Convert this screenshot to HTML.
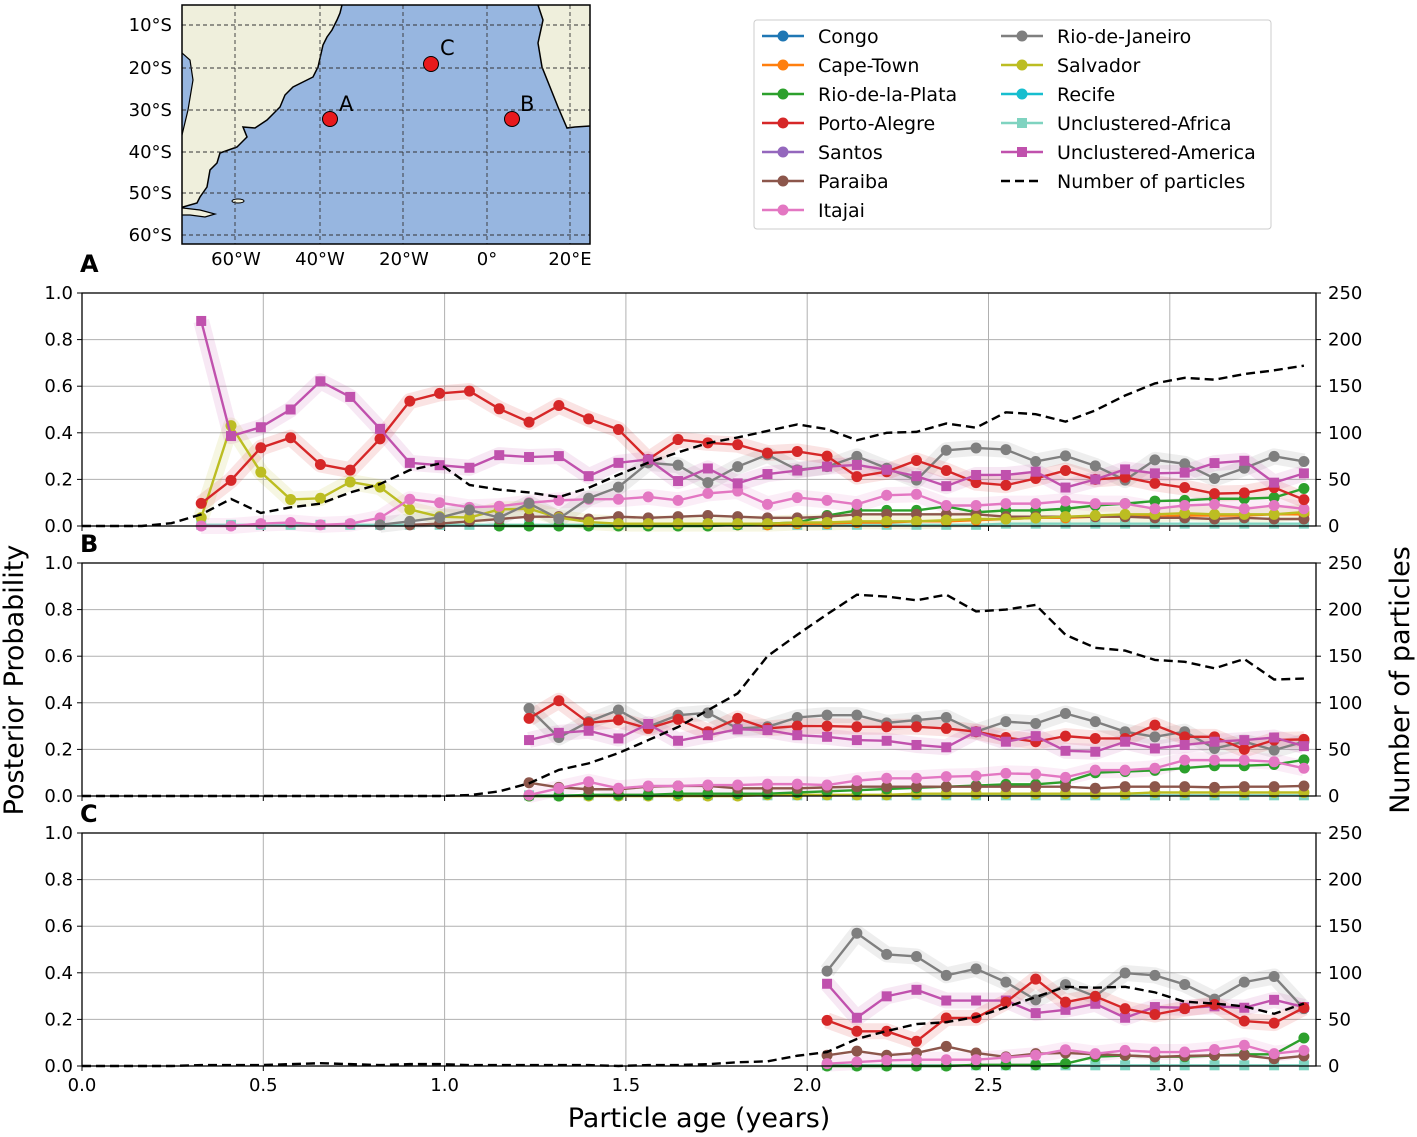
<!DOCTYPE html>
<html><head><meta charset="utf-8"><style>
body{margin:0;background:#fff;}
svg{display:block;font-family:"DejaVu Sans","Liberation Sans",sans-serif;}
</style></head><body>
<svg id="fig" width="1417" height="1137" viewBox="0 0 1417 1137" xmlns="http://www.w3.org/2000/svg">
<defs><clipPath id="mapclip"><rect x="182" y="5" width="408" height="239"/></clipPath></defs>
<g>
<g clip-path="url(#mapclip)">
<rect x="182" y="5" width="408" height="239" fill="#97b6e0"/>
<polygon fill="#efefdc" stroke="#000" stroke-width="1.5" points="160,0 344,0 342,5 340,13 337,20 332,30 327,37 323,45 318,67 313,77 307,80 293,87 285,95 280,107 267,120 255,128 243,127 247,137 237,147 220,153 217,163 210,170 207,187 200,197 197,203 183,207 160,207"/>
<polygon fill="#97b6e0" stroke="#000" stroke-width="1.2" points="160,53 182,53 190,60 193,80 188,110 182,135 160,135"/>
<polygon fill="#efefdc" stroke="#000" stroke-width="1.2" points="170,209 183,208 200,210 215,214 205,217 190,215 170,215"/>
<ellipse cx="238" cy="201" rx="6" ry="2" fill="#efefdc" stroke="#000" stroke-width="1"/>
<polygon fill="#efefdc" stroke="#000" stroke-width="1.5" points="538,0 538,5 543,20 538,43 542,67 550,87 558,107 567,128 575,127 590,126 600,126 600,0"/>
<g stroke="#333" stroke-width="0.9" stroke-dasharray="4,3" fill="none">
<line x1="235" y1="5" x2="235" y2="244"/><line x1="320" y1="5" x2="320" y2="244"/><line x1="403" y1="5" x2="403" y2="244"/><line x1="487" y1="5" x2="487" y2="244"/><line x1="570" y1="5" x2="570" y2="244"/>
<line x1="182" y1="25" x2="590" y2="25"/><line x1="182" y1="68" x2="590" y2="68"/><line x1="182" y1="110" x2="590" y2="110"/><line x1="182" y1="152" x2="590" y2="152"/><line x1="182" y1="193" x2="590" y2="193"/><line x1="182" y1="235" x2="590" y2="235"/>
</g>
<circle cx="330" cy="119" r="7.5" fill="#e8191c" stroke="#000" stroke-width="1"/>
<circle cx="512" cy="119" r="7.5" fill="#e8191c" stroke="#000" stroke-width="1"/>
<circle cx="431" cy="64" r="7.5" fill="#e8191c" stroke="#000" stroke-width="1"/>
<text x="339" y="111" font-size="21">A</text>
<text x="520" y="111" font-size="21">B</text>
<text x="440" y="55" font-size="21">C</text>
</g>
<rect x="182" y="5" width="408" height="239" fill="none" stroke="#000" stroke-width="1.5"/>
<g font-size="18" text-anchor="end">
<text x="172" y="31">10°S</text><text x="172" y="74">20°S</text><text x="172" y="116">30°S</text><text x="172" y="158">40°S</text><text x="172" y="199">50°S</text><text x="172" y="241">60°S</text>
</g>
<g font-size="18" text-anchor="middle">
<text x="236" y="265">60°W</text><text x="320" y="265">40°W</text><text x="404" y="265">20°W</text><text x="487" y="265">0°</text><text x="570" y="265">20°E</text>
</g>
</g>
<g>
<rect x="754" y="20" width="517" height="209" rx="3" fill="#fff" stroke="#ccc" stroke-width="1"/>
<g id="legendItems"></g>
</g>
<g id="plots"></g>
<text x="699" y="1127" font-size="27" text-anchor="middle">Particle age (years)</text>
<text transform="translate(23,680) rotate(-90)" font-size="27" text-anchor="middle">Posterior Probability</text>
<text transform="translate(1409,680) rotate(-90)" font-size="27" text-anchor="middle">Number of particles</text>
<text x="80" y="272" font-size="24" font-weight="bold">A</text>
<text x="80" y="552" font-size="24" font-weight="bold">B</text>
<text x="80" y="822" font-size="24" font-weight="bold">C</text>
</svg>
<script>
// ---- data ----
const seriesNames = ["Congo","Cape-Town","Rio-de-la-Plata","Porto-Alegre","Santos","Paraiba","Itajai","Rio-de-Janeiro","Salvador","Recife","Unclustered-Africa","Unclustered-America"];
const xTicks = [0.0,0.5,1.0,1.5,2.0,2.5,3.0];
const yTicks = [0.0,0.2,0.4,0.6,0.8,1.0];
const rTicks = [0,50,100,150,200,250];
// Panel A: months 4..41
const startA = 4;
const redA = [0.097,0.196,0.336,0.379,0.264,0.24,0.374,0.536,0.569,0.579,0.503,0.446,0.517,0.46,0.414,0.286,0.371,0.357,0.349,0.313,0.32,0.3,0.212,0.233,0.281,0.238,0.186,0.175,0.204,0.238,0.2,0.209,0.183,0.165,0.139,0.142,0.165,0.113];
const amerA = [0.88,0.386,0.424,0.5,0.621,0.554,0.417,0.271,0.261,0.25,0.304,0.296,0.3,0.214,0.271,0.286,0.193,0.247,0.183,0.223,0.238,0.255,0.262,0.241,0.214,0.171,0.219,0.219,0.233,0.165,0.2,0.243,0.226,0.229,0.27,0.28,0.186,0.226];
const startGrayA = 10;
const grayA = [0.005,0.02,0.036,0.069,0.036,0.097,0.031,0.119,0.167,0.271,0.261,0.186,0.255,0.306,0.241,0.255,0.299,0.248,0.197,0.325,0.335,0.328,0.277,0.301,0.258,0.197,0.284,0.267,0.204,0.248,0.299,0.277];
const oliveA = [0.036,0.431,0.231,0.114,0.119,0.189,0.167,0.071,0.04,0.036,0.071,0.074,0.036,0.017,0.01,0.01,0.01,0.01,0.01,0.01,0.015,0.015,0.02,0.02,0.02,0.025,0.03,0.03,0.035,0.04,0.045,0.05,0.05,0.055,0.05,0.05,0.05,0.06];
const pinkA = [0,0,0.01,0.015,0.005,0.01,0.035,0.115,0.1,0.08,0.085,0.1,0.11,0.115,0.115,0.125,0.11,0.14,0.15,0.093,0.122,0.11,0.093,0.132,0.136,0.088,0.088,0.096,0.096,0.107,0.096,0.096,0.074,0.088,0.093,0.074,0.088,0.074];
const startGreenA = 14;
const greenA = [0,0,0,0,0,0,0,0,0.005,0.01,0.015,0.045,0.067,0.067,0.067,0.084,0.059,0.067,0.067,0.074,0.088,0.096,0.107,0.11,0.117,0.117,0.122,0.161];
const startBrownA = 11;
const brownA = [0.005,0.01,0.02,0.03,0.04,0.04,0.03,0.04,0.035,0.04,0.045,0.04,0.035,0.035,0.04,0.05,0.05,0.05,0.05,0.05,0.04,0.04,0.04,0.04,0.04,0.035,0.035,0.03,0.035,0.03,0.03];
const startOrangeA = 22;
const orangeA = [0.005,0.005,0.01,0.01,0.015,0.015,0.02,0.02,0.025,0.03,0.035,0.035,0.04,0.04,0.04,0.045,0.045,0.045,0.05,0.05];
const tealA = [0.005,0.005,0.005,0.005,0.005,0.005,0.005,0.005,0.005,0.005,0.005,0.005,0.005,0.005,0.005,0.005,0.005,0.005,0.005,0.005,0.005,0.005,0.005,0.005,0.005,0.005,0.005,0.01,0.01,0.01,0.01,0.01,0.01,0.01,0.01,0.01,0.01,0.01];
const dashA = [0,0,0,3,12.5,29,14,20,24,36,45,60,67,44,39,36,31,41,55,68,79,89,95,102,109,104,92,100,101,110,105.5,122,120,112,124,140,153,159,157,163,167,172];
// Panel B: months 15..41
const startB = 15;
const redB = [0.333,0.409,0.314,0.326,0.29,0.329,0.276,0.333,0.29,0.3,0.3,0.297,0.297,0.297,0.29,0.276,0.251,0.233,0.257,0.247,0.247,0.304,0.254,0.254,0.2,0.24,0.243];
const grayB = [0.376,0.251,0.319,0.369,0.297,0.347,0.357,0.29,0.297,0.337,0.347,0.347,0.314,0.326,0.337,0.276,0.319,0.311,0.354,0.319,0.276,0.254,0.276,0.204,0.233,0.197,0.233];
const amerB = [0.24,0.271,0.28,0.247,0.309,0.237,0.261,0.286,0.283,0.261,0.254,0.24,0.237,0.219,0.209,0.276,0.233,0.257,0.194,0.19,0.233,0.204,0.219,0.233,0.24,0.251,0.214];
const pinkB = [0.004,0.033,0.061,0.033,0.043,0.043,0.047,0.047,0.051,0.051,0.047,0.066,0.076,0.076,0.083,0.086,0.097,0.094,0.08,0.111,0.111,0.119,0.154,0.154,0.154,0.147,0.119];
const brownB = [0.057,0.037,0.029,0.029,0.04,0.043,0.043,0.033,0.033,0.033,0.037,0.04,0.04,0.04,0.04,0.04,0.04,0.04,0.04,0.033,0.04,0.04,0.04,0.037,0.04,0.04,0.043];
const greenB = [0,0,0.005,0.005,0.005,0.01,0.01,0.01,0.01,0.015,0.02,0.025,0.03,0.035,0.04,0.045,0.05,0.05,0.06,0.1,0.105,0.11,0.12,0.13,0.13,0.135,0.155];
const oliveB = [0,0,0,0,0,0,0,0,0.005,0.005,0.005,0.005,0.005,0.01,0.01,0.01,0.01,0.01,0.01,0.01,0.01,0.015,0.015,0.015,0.015,0.015,0.015];
const tealB = [0.003,0.003,0.003,0.003,0.003,0.003,0.003,0.003,0.003,0.003,0.003,0.003,0.003,0.003,0.003,0.003,0.003,0.003,0.003,0.003,0.003,0.003,0.003,0.003,0.003,0.003,0.003];
const dashB = [0,0,0,0,0,0,0,0,0,0,0,0,0,1,5,13.6,28,35,46,60,74,92,110,150,173,195,216,214,210,216,198,200,205,173,159,156,146,144,137,147,125,126];
// Panel C: months 25..41
const startC = 25;
const grayC = [0.407,0.57,0.479,0.47,0.389,0.417,0.36,0.284,0.349,0.299,0.399,0.389,0.35,0.287,0.36,0.384,0.246];
const amerC = [0.353,0.207,0.299,0.327,0.281,0.281,0.281,0.227,0.241,0.267,0.207,0.253,0.25,0.256,0.25,0.284,0.253];
const redC = [0.196,0.149,0.149,0.106,0.206,0.207,0.274,0.373,0.274,0.299,0.246,0.221,0.246,0.264,0.193,0.184,0.25];
const brownC = [0.046,0.064,0.046,0.056,0.084,0.056,0.039,0.053,0.056,0.05,0.046,0.039,0.043,0.046,0.046,0.031,0.043];
const pinkC = [0.01,0.017,0.024,0.027,0.027,0.027,0.036,0.046,0.07,0.053,0.067,0.06,0.06,0.071,0.089,0.053,0.067];
const greenC = [0,0,0,0,0,0.005,0.005,0.005,0.01,0.04,0.045,0.04,0.04,0.045,0.05,0.05,0.12];
const tealC = [0.003,0.003,0.003,0.003,0.003,0.003,0.003,0.003,0.003,0.003,0.003,0.003,0.003,0.003,0.003,0.003,0.003];
const dashC = [0,0,0,0,1,1,1,2,3,2,1,2,2,1,1,1,1,1,0,1,1,2,4,5,11,15,29,37.5,45,47,52.5,63,74,85,84,85,79,69,67,64,56,67];

// ---- helpers ----
const NS = "http://www.w3.org/2000/svg";
const colors = {"Congo":"#1f77b4","Cape-Town":"#ff7f0e","Rio-de-la-Plata":"#2ca02c","Porto-Alegre":"#d62728","Santos":"#9467bd","Paraiba":"#8c564b","Itajai":"#e377c2","Rio-de-Janeiro":"#7f7f7f","Salvador":"#bcbd22","Recife":"#17becf","Unclustered-Africa":"#7fd3c0","Unclustered-America":"#c051ad"};
const X0 = 82, X1 = 1316;
function xs(age){ return X0 + age*362.6; }
function ageOf(n){ return n*30/365; }
function mk(tag, attrs, parent){ const e=document.createElementNS(NS,tag); for(const k in attrs) e.setAttribute(k,attrs[k]); parent.appendChild(e); return e; }
const plots = document.getElementById("plots");

function drawPanel(key, top, bottom, showX, series, dash){
  const ys = p => bottom - p*(bottom-top);
  const yr = v => bottom - v/250*(bottom-top);
  const g = mk("g",{},plots);
  
  
  xTicks.forEach(t=>{ mk("line",{x1:xs(t),x2:xs(t),y1:top,y2:bottom,stroke:"#b0b0b0","stroke-width":1},g); });
  yTicks.forEach(t=>{ mk("line",{x1:X0,x2:X1,y1:ys(t),y2:ys(t),stroke:"#b0b0b0","stroke-width":1},g); });
  yTicks.forEach(t=>{
    mk("line",{x1:X0-5,x2:X0,y1:ys(t),y2:ys(t),stroke:"#000"},g);
    const tx=mk("text",{x:X0-9,y:ys(t)+6,"font-size":18,"text-anchor":"end"},g); tx.textContent=t.toFixed(1);
    
    
  });
  rTicks.forEach(t=>{
    mk("line",{x1:X1,x2:X1+5,y1:yr(t),y2:yr(t),stroke:"#000"},g);
    const tx=mk("text",{x:X1+12,y:yr(t)+6,"font-size":18},g); tx.textContent=String(t);
    
    
  });
  xTicks.forEach(t=>{
    mk("line",{x1:xs(t),x2:xs(t),y1:bottom,y2:bottom+5,stroke:"#000"},g);
    if(showX){ const tx=mk("text",{x:xs(t),y:bottom+25,"font-size":18,"text-anchor":"middle"},g); tx.textContent=t.toFixed(1);
      
       }
  });
  series.forEach(s=>{
    if(!s.band) return;
    const pts = s.vals.map((v,i)=>xs(ageOf(s.start+i))+","+ys(v)).join(" ");
    mk("polyline",{points:pts,fill:"none",stroke:colors[s.name],"stroke-width":16,"stroke-opacity":0.13,"stroke-linejoin":"round"},g);
  });
  series.forEach(s=>{
    const sg = mk("g",{},g);
    
    
    const pts = s.vals.map((v,i)=>xs(ageOf(s.start+i))+","+ys(v)).join(" ");
    mk("polyline",{points:pts,fill:"none",stroke:colors[s.name],"stroke-width":2.4,"stroke-linejoin":"round"},sg);
    s.vals.forEach((v,i)=>{
      const cx=xs(ageOf(s.start+i)), cy=ys(v);
      let m;
      if(s.name==="Unclustered-America"||s.name==="Unclustered-Africa") m=mk("rect",{x:cx-5,y:cy-5,width:10,height:10,fill:colors[s.name]},sg);
      else m=mk("circle",{cx:cx,cy:cy,r:5.5,fill:colors[s.name]},sg);
      
      
    });
  });
  const dpts = dash.map((v,i)=>xs(ageOf(i))+","+yr(v)).join(" ");
  const dl = mk("polyline",{points:dpts,fill:"none",stroke:"#000","stroke-width":2.4,"stroke-dasharray":"9,5"},g);
  
  
  mk("rect",{x:X0,y:top,width:X1-X0,height:bottom-top,fill:"none",stroke:"#000","stroke-width":1.3},g);
}

drawPanel("a",293,526,false,[
  {name:"Unclustered-Africa",vals:tealA,start:startA},
  {name:"Cape-Town",vals:orangeA,start:startOrangeA},
  {name:"Rio-de-la-Plata",vals:greenA,start:startGreenA},
  {name:"Paraiba",vals:brownA,start:startBrownA},
  {name:"Salvador",vals:oliveA,start:startA,band:true},
  {name:"Itajai",vals:pinkA,start:startA,band:true},
  {name:"Rio-de-Janeiro",vals:grayA,start:startGrayA,band:true},
  {name:"Porto-Alegre",vals:redA,start:startA,band:true},
  {name:"Unclustered-America",vals:amerA,start:startA,band:true}
],dashA);
drawPanel("b",563,796,false,[
  {name:"Unclustered-Africa",vals:tealB,start:startB},
  {name:"Salvador",vals:oliveB,start:startB},
  {name:"Rio-de-la-Plata",vals:greenB,start:startB},
  {name:"Paraiba",vals:brownB,start:startB},
  {name:"Itajai",vals:pinkB,start:startB,band:true},
  {name:"Rio-de-Janeiro",vals:grayB,start:startB,band:true},
  {name:"Porto-Alegre",vals:redB,start:startB,band:true},
  {name:"Unclustered-America",vals:amerB,start:startB,band:true}
],dashB);
drawPanel("c",833,1066,true,[
  {name:"Unclustered-Africa",vals:tealC,start:startC},
  {name:"Rio-de-la-Plata",vals:greenC,start:startC},
  {name:"Paraiba",vals:brownC,start:startC},
  {name:"Itajai",vals:pinkC,start:startC,band:true},
  {name:"Rio-de-Janeiro",vals:grayC,start:startC,band:true},
  {name:"Unclustered-America",vals:amerC,start:startC,band:true},
  {name:"Porto-Alegre",vals:redC,start:startC,band:true}
],dashC);

const lg = document.getElementById("legendItems");
const legendCol1 = ["Congo","Cape-Town","Rio-de-la-Plata","Porto-Alegre","Santos","Paraiba","Itajai"];
const legendCol2 = ["Rio-de-Janeiro","Salvador","Recife","Unclustered-Africa","Unclustered-America","Number of particles"];
function legendEntry(name, x, y){
  const eg = mk("g",{},lg);
  
  
  if(name==="Number of particles"){
    mk("line",{x1:x,x2:x+42,y1:y,y2:y,stroke:"#000","stroke-width":2.4,"stroke-dasharray":"9,5"},eg);
  } else {
    mk("line",{x1:x,x2:x+42,y1:y,y2:y,stroke:colors[name],"stroke-width":2.4},eg);
    if(name.indexOf("Unclustered")===0) mk("rect",{x:x+16,y:y-5,width:10,height:10,fill:colors[name]},eg);
    else mk("circle",{cx:x+21,cy:y,r:5.5,fill:colors[name]},eg);
  }
  const t = mk("text",{x:x+56,y:y+7,"font-size":19},eg); t.textContent=name;
}
legendCol1.forEach((n,i)=>legendEntry(n,762,36+i*29));
legendCol2.forEach((n,i)=>legendEntry(n,1001,36+i*29));
</script>
</body></html>
